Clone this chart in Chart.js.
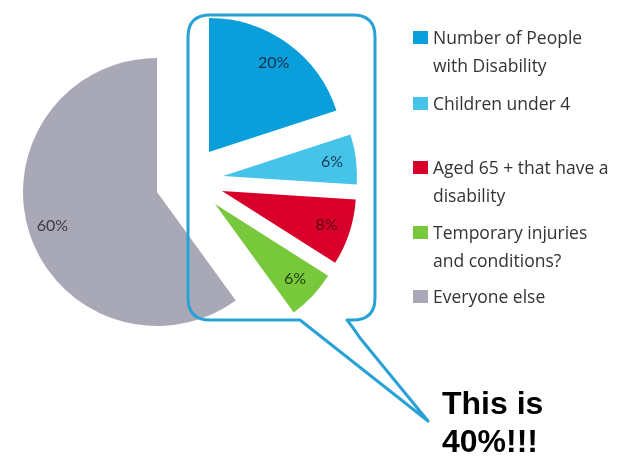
<!DOCTYPE html>
<html>
<head>
<meta charset="utf-8">
<script src="https://cdn.jsdelivr.net/npm/chart.js@4.4.1/dist/chart.umd.min.js"></script>
<style>
  html, body { margin: 0; padding: 0; background: #fff; }
  #wrap { position: relative; width: 629px; height: 457px; overflow: hidden; }
  #grafico { position: absolute; left: 0; top: 0; }
  .item { position: absolute; left: 413px; font-family: "Open Sans", sans-serif; font-size: 17.5px; line-height: 28px; color: #333; }
  .item span.sw { position: absolute; left: 0; top: 8px; width: 15px; height: 13px; }
  .item div { margin-left: 20px; white-space: nowrap; }
  #nota { position: absolute; left: 442px; top: 384px; font-family: "Liberation Sans", Arial, sans-serif; font-weight: bold; font-size: 32px; line-height: 38px; color: #000; }
</style>
</head>
<body>
<div id="wrap">
  <canvas id="grafico" width="629" height="457"></canvas>
  <div id="leyenda"></div>
  <div id="nota">This is<br>40%!!!</div>
</div>
<script>
// Datos del grafico
let categorias = [
  ["Number of People", "with Disability"],
  ["Children under 4"],
  ["Aged 65 + that have a", "disability"],
  ["Temporary injuries", "and conditions?"],
  ["Everyone else"]
];
let porcentajes = [20, 6, 8, 6, 60];

// Estilos
let colores = ["#0a9fdb", "#45c3e8", "#d8002b", "#78c83c", "#a9a8b6"];
let coloresTexto = ["#15304a", "#173c55", "#5c0014", "#1f3c0d", "#3b3b45"];
let separacion = [[52, -40], [66, -16], [65, -1], [58, 12], [0, 0]]; // desplazamiento de cada porcion
let topLeyenda = [23, 89, 153, 218, 282];

// Leyenda en HTML
let leyenda = document.getElementById("leyenda");
categorias.forEach(function (cat, i) {
  let item = document.createElement("div");
  item.className = "item";
  item.style.top = topLeyenda[i] + "px";
  let sw = document.createElement("span");
  sw.className = "sw";
  sw.style.background = colores[i];
  item.appendChild(sw);
  let txt = document.createElement("div");
  txt.innerHTML = cat.join("<br>");
  item.appendChild(txt);
  leyenda.appendChild(item);
});

// Separa las porciones (efecto "explotado")
const separar = {
  id: "separar",
  afterDatasetsUpdate(chart) {
    let meta = chart.getDatasetMeta(0);
    meta.data.forEach(function (arc, i) {
      arc.x += separacion[i][0];
      arc.y += separacion[i][1];
    });
  }
};

// Etiquetas de porcentaje y el globo
const etiquetas = {
  id: "etiquetas",
  afterDatasetsDraw(chart) {
    let ctx = chart.ctx;
    let meta = chart.getDatasetMeta(0);
    ctx.save();
    ctx.font = "16px Lato, 'Open Sans', sans-serif";
    ctx.textAlign = "center";
    ctx.textBaseline = "middle";
    meta.data.forEach(function (arc, i) {
      let p = arc.getProps(["x", "y", "startAngle", "endAngle", "outerRadius"], true);
      let mid = (p.startAngle + p.endAngle) / 2;
      let r = p.outerRadius * 0.82;
      ctx.fillStyle = coloresTexto[i];
      ctx.fillText(porcentajes[i] + "%", p.x + Math.cos(mid) * r, p.y + Math.sin(mid) * r);
    });

    // globo de dialogo
    let x0 = 188, y0 = 15, x1 = 375, y1 = 320, rad = 22;
    ctx.beginPath();
    ctx.moveTo(x0 + rad, y0);
    ctx.lineTo(x1 - rad, y0);
    ctx.quadraticCurveTo(x1, y0, x1, y0 + rad);
    ctx.lineTo(x1, y1 - rad);
    ctx.quadraticCurveTo(x1, y1, x1 - rad, y1);
    ctx.lineTo(347, y1);
    ctx.quadraticCurveTo(352, 326, 360, 338);
    ctx.lineTo(428, 421);
    ctx.lineTo(300, y1);
    ctx.lineTo(x0 + rad, y1);
    ctx.quadraticCurveTo(x0, y1, x0, y1 - rad);
    ctx.lineTo(x0, y0 + rad);
    ctx.quadraticCurveTo(x0, y0, x0 + rad, y0);
    ctx.closePath();
    ctx.strokeStyle = "#28a2d6";
    ctx.lineWidth = 3;
    ctx.lineJoin = "round";
    ctx.stroke();
    ctx.restore();
  }
};

let ctx = document.getElementById("grafico").getContext("2d");
let grafico = new Chart(ctx, {
  type: "pie",
  data: {
    labels: categorias.map(function (c) { return c.join(" "); }),
    datasets: [{
      data: porcentajes,
      backgroundColor: colores,
      borderWidth: 0
    }]
  },
  options: {
    responsive: false,
    animation: false,
    radius: 134,
    layout: { padding: { left: 0, top: 0, right: 315, bottom: 73 } },
    plugins: {
      legend: { display: false },
      tooltip: { enabled: false }
    }
  },
  plugins: [separar, etiquetas]
});
</script>
</body>
</html>
